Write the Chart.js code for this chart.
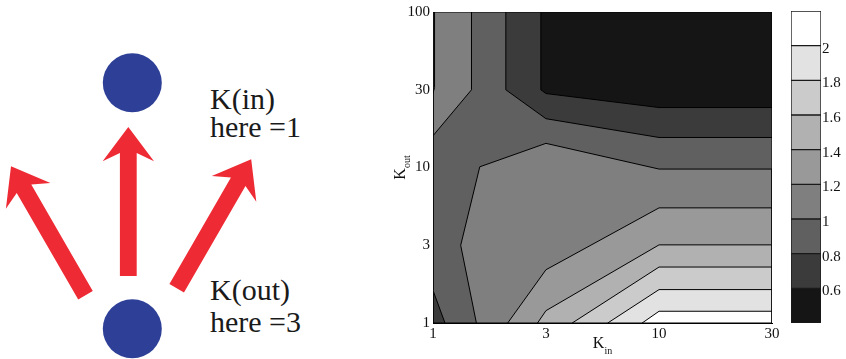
<!DOCTYPE html>
<html>
<head>
<meta charset="utf-8">
<script src="https://cdn.jsdelivr.net/npm/chart.js@4.4.1/dist/chart.umd.min.js"></script>
<style>
    html, body { margin: 0; padding: 0; background: #fff; }
    #wrap { position: relative; width: 846px; height: 359px; overflow: hidden; background: #fff; }
    #sketch { position: absolute; left: 0; top: 0; }
    #mainBox { position: absolute; left: 380px; top: 0; width: 410px; height: 359px; }
    #cbarBox { position: absolute; left: 786px; top: 0; width: 60px; height: 359px; }
</style>
</head>
<body>
<div id="wrap">
    <svg id="sketch" width="380" height="359" viewBox="0 0 380 359">
        <defs>
            <path id="arrow" d="M0,-149 L25.7,-114.7 L8.4,-123 L8.4,0 L-8.4,0 L-8.4,-123 L-25.7,-114.7 Z" fill="#ee2b34"/>
        </defs>
        <circle cx="132.3" cy="82.8" r="29.5" fill="#2d3f97"/>
        <circle cx="132.3" cy="328.8" r="29.5" fill="#2d3f97"/>
        <use href="#arrow" transform="translate(128.3,276)"/>
        <use href="#arrow" transform="translate(85.5,295.3) rotate(-30)"/>
        <use href="#arrow" transform="translate(176.7,288.3) rotate(30)"/>
        <g font-family="Liberation Serif" font-size="30" fill="#1a1a1a">
            <text x="210" y="109">K(in)</text>
            <text x="210" y="137">here =1</text>
            <text x="210" y="300">K(out)</text>
            <text x="210" y="332">here =3</text>
        </g>
    </svg>
    <div id="mainBox"><canvas id="contourChart" width="410" height="359"></canvas></div>
    <div id="cbarBox"><canvas id="cbarChart" width="60" height="359"></canvas></div>
</div>
<script>
    // axes (K values on log scales, grid every half decade)
    const kInTicks = [1, 3.16, 10, 31.6];
    const kInLabels = ['1', '3', '10', '30'];
    const kOutTicks = [1, 3.16, 10, 31.6, 100];
    const kOutLabels = ['1', '3', '10', '30', '100'];

    // contour levels and band colours (below 0.6 ... above 2)
    const levelEdges = [0.4, 0.6, 0.8, 1.0, 1.2, 1.4, 1.6, 1.8, 2.0, 2.2];
    const levelLabels = ['0.6', '0.8', '1', '1.2', '1.4', '1.6', '1.8', '2'];
    const bandColors = ['#151515', '#3b3b3b', '#606060', '#7f7f7f', '#999999', '#b1b1b1', '#cbcbcb', '#e2e2e2', '#ffffff'];

    // filled regions z >= level as [K_in, K_out]
    const regionBase = [[1, 1], [31.6, 1], [31.6, 100], [1, 100]];
    const regionAbove06 = [[1, 1], [31.6, 1], [31.6, 24.3], [10, 24.3], [3.16, 29.9], [3, 31.6], [3, 100], [1, 100]];
    const regionAbove08 = [[1.13, 1], [31.6, 1], [31.6, 15.6], [10, 15.6], [3.16, 20.6], [2.1, 31.6], [2.1, 100], [1, 100], [1, 1.62]];
    const regionAbove10a = [[1, 16], [1.48, 31.6], [1.48, 100], [1, 100]];
    const regionAbove10b = [[1.556, 1], [1.326, 3.16], [1.61, 10.1], [3.16, 14.3], [10, 9.77], [31.6, 9.77], [31.6, 1]];
    const regionAbove12a = [[1, 30.1], [1.016, 32.6], [1.016, 100], [1, 100]];
    const regionAbove12b = [[2.14, 1], [3.16, 2.2], [10, 5.5], [31.6, 5.5], [31.6, 1]];
    const regionAbove14 = [[2.9, 1], [3.16, 1.2], [10, 3.18], [31.6, 3.18], [31.6, 1]];
    const regionAbove16 = [[4.13, 1], [10, 2.29], [31.6, 2.29], [31.6, 1]];
    const regionAbove18 = [[5.93, 1], [10, 1.64], [31.6, 1.64], [31.6, 1]];
    const regionAbove20 = [[8.42, 1], [10, 1.19], [31.6, 1.19], [31.6, 1]];

    const layers = [
        { pts: regionBase, band: 0 },
        { pts: regionAbove06, band: 1 },
        { pts: regionAbove08, band: 2 },
        { pts: regionAbove10a, band: 3 },
        { pts: regionAbove10b, band: 3 },
        { pts: regionAbove12a, band: 4 },
        { pts: regionAbove12b, band: 4 },
        { pts: regionAbove14, band: 5 },
        { pts: regionAbove16, band: 6 },
        { pts: regionAbove18, band: 7 },
        { pts: regionAbove20, band: 8 }
    ];

    Chart.defaults.font.family = '"Liberation Serif"';
    Chart.defaults.font.size = 15;
    Chart.defaults.color = '#111';

    let datasets = layers.map(function (layer, i) {
        let pts = layer.pts.concat([layer.pts[0]]);
        return {
            type: 'line',
            data: pts.map(p => ({ x: p[0], y: p[1] })),
            order: layers.length - i,
            fill: 'shape',
            backgroundColor: bandColors[layer.band],
            borderColor: '#000',
            borderWidth: 1,
            pointRadius: 0,
            tension: 0
        };
    });

    // K_in / K_out titles with subscripts
    const axisTitles = {
        id: 'axisTitles',
        afterDraw(chart) {
            const { ctx, chartArea } = chart;
            ctx.save();
            ctx.fillStyle = '#111';
            ctx.textBaseline = 'alphabetic';
            ctx.textAlign = 'left';

            ctx.font = '16px "Liberation Serif"';
            let kw = ctx.measureText('K').width;
            ctx.font = '10px "Liberation Serif"';
            let iw = ctx.measureText('in').width;
            let cx = (chartArea.left + chartArea.right) / 2 - (kw + iw) / 2;
            ctx.font = '16px "Liberation Serif"';
            ctx.fillText('K', cx, chartArea.bottom + 25);
            ctx.font = '10px "Liberation Serif"';
            ctx.fillText('in', cx + kw, chartArea.bottom + 31);

            ctx.font = '10px "Liberation Serif"';
            let ow = ctx.measureText('out').width;
            let cy = (chartArea.top + chartArea.bottom) / 2 + (kw + ow) / 2;
            ctx.translate(chartArea.left - 28, cy);
            ctx.rotate(-Math.PI / 2);
            ctx.font = '16px "Liberation Serif"';
            ctx.fillText('K', 0, 0);
            ctx.font = '10px "Liberation Serif"';
            ctx.fillText('out', kw, 5);
            ctx.restore();
        }
    };

    new Chart(document.getElementById('contourChart'), {
        type: 'scatter',
        data: { datasets: datasets },
        plugins: [axisTitles],
        options: {
            responsive: false,
            animation: false,
            layout: { padding: { top: 11, right: 18, left: 0, bottom: 0 } },
            plugins: {
                legend: { display: false },
                tooltip: { enabled: false }
            },
            scales: {
                x: {
                    type: 'logarithmic',
                    min: 1,
                    max: 31.6,
                    grid: { display: false, drawTicks: false },
                    border: { display: true, color: '#000' },
                    afterBuildTicks: (s) => { s.ticks = kInTicks.map(v => ({ value: v })); },
                    afterFit: (s) => { s.height = 36; },
                    ticks: {
                        autoSkip: false,
                        maxRotation: 0,
                        padding: 2,
                        callback: (v, i) => kInLabels[i]
                    }
                },
                y: {
                    type: 'logarithmic',
                    min: 1,
                    max: 100,
                    grid: { display: false, drawTicks: false },
                    border: { display: true, color: '#000' },
                    afterBuildTicks: (s) => { s.ticks = kOutTicks.map(v => ({ value: v })); },
                    afterFit: (s) => { s.width = 53; },
                    ticks: {
                        autoSkip: false,
                        padding: 3,
                        callback: (v, i) => kOutLabels[i]
                    }
                }
            }
        }
    });

    // colour bar: one floating bar segment per band
    let cbarSets = bandColors.map(function (c, i) {
        return {
            data: [[levelEdges[i], levelEdges[i + 1]]],
            backgroundColor: c,
            borderColor: '#1a1a1a',
            borderWidth: 1,
            borderSkipped: false,
            grouped: false,
            barPercentage: 1,
            categoryPercentage: 1
        };
    });

    new Chart(document.getElementById('cbarChart'), {
        type: 'bar',
        data: { labels: [''], datasets: cbarSets },
        options: {
            responsive: false,
            animation: false,
            layout: { padding: { top: 11, left: 5, right: 0, bottom: 36 } },
            plugins: {
                legend: { display: false },
                tooltip: { enabled: false }
            },
            scales: {
                x: { display: false },
                y: {
                    position: 'right',
                    min: 0.4,
                    max: 2.2,
                    grid: { display: false, drawTicks: false },
                    border: { display: false },
                    afterBuildTicks: (s) => { s.ticks = levelEdges.slice(1, -1).map(v => ({ value: v })); },
                    afterFit: (s) => { s.width = 25; },
                    ticks: {
                        autoSkip: false,
                        padding: 1,
                        labelOffset: 3,
                        callback: (v, i) => levelLabels[i]
                    }
                }
            }
        }
    });
</script>
</body>
</html>
